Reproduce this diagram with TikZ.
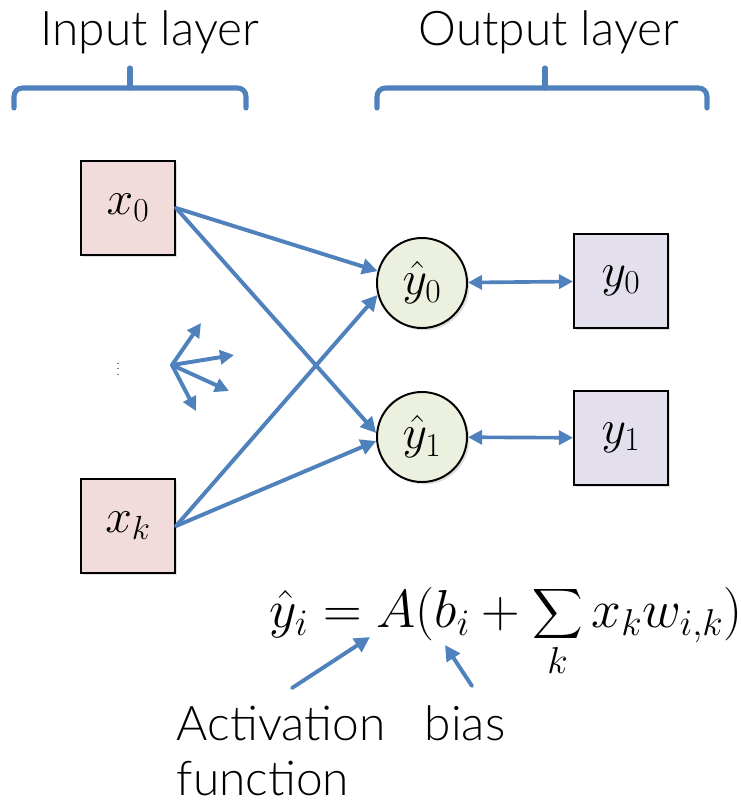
\RequirePackage{fix-cm}
\documentclass[tikz,border=0pt]{standalone}
\usepackage{amsmath}
\usepackage{fontspec}
\setmainfont{Lato Light}
\usetikzlibrary{arrows.meta,shadows}
\definecolor{LinkBlue}{HTML}{4F81BD}
\definecolor{InFill}{HTML}{F2DCDB}
\definecolor{OutFill}{HTML}{EBF1DE}
\definecolor{TargetFill}{HTML}{E4DFEC}
\tikzset{
  unitbox/.style={draw=black,line width=1.4pt,minimum size=2.35cm,inner sep=0pt,
    font=\fontsize{34}{34}\selectfont,
    drop shadow={opacity=.25,shadow xshift=.6mm,shadow yshift=-.6mm}},
  neuron/.style={circle,draw=black,line width=1.4pt,fill=OutFill,minimum size=2.25cm,inner sep=0pt,
    font=\fontsize{34}{34}\selectfont,
    drop shadow={opacity=.25,shadow xshift=.6mm,shadow yshift=-.6mm}},
  link/.style={LinkBlue,line width=2.8pt,-{Triangle[length=11pt,width=11pt]}},
  pair/.style={LinkBlue,line width=2.6pt,{Triangle[length=10pt,width=10pt]}-{Triangle[length=10pt,width=10pt]}},
  brace/.style={LinkBlue,line width=3.6pt,rounded corners=6pt},
  title/.style={anchor=base,font=\fontsize{34}{40}\selectfont},
  note/.style={anchor=base west,font=\fontsize{34}{40}\selectfont}
}
\begin{document}
\begin{tikzpicture}[x=0.025cm,y=-0.025cm,line cap=round]
  \useasboundingbox (0,0) rectangle (741,803);
  % layer titles and braces
  \node[title] (intitle) at (150,45) {Input layer};
  \node[title] (outtitle) at (549,45) {Output layer};
  \draw[brace] (14,108) -- (14,88) -- (246,88) -- (246,108);
  \draw[brace,rounded corners=0pt] (130,88) -- (130,68);
  \draw[brace] (377,108) -- (377,88) -- (707,88) -- (707,108);
  \draw[brace,rounded corners=0pt] (545,88) -- (545,68);
  % units
  \node[unitbox,fill=InFill] (x0) at (128,208) {$x_0$};
  \node[unitbox,fill=InFill] (xk) at (128,526) {$x_k$};
  \node[neuron] (yh0) at (422,283) {$\hat{y}_0$};
  \node[neuron] (yh1) at (422,437) {$\hat{y}_1$};
  \node[unitbox,fill=TargetFill] (y0) at (621,281) {$y_0$};
  \node[unitbox,fill=TargetFill] (y1) at (621,438) {$y_1$};
  % weights
  \draw[link] (x0.east) -- (yh0.165);
  \draw[link] (x0.east) -- (yh1.175);
  \draw[link] (xk.east) -- (yh0.195);
  \draw[link] (xk.east) -- (yh1.185);
  \draw[pair] (yh0) -- (y0);
  \draw[pair] (yh1) -- (y1);
  % more inputs
  \node (dots) at (118,365) {\fontsize{9}{9}\selectfont$\vdots$};
  \coordinate (fan) at (172,365);
  \foreach \dx/\dy in {29/-42,62/-10,57/26,24/46}
    \draw[link,-{Triangle[length=10pt,width=10pt]}] (fan) -- ++(\dx,\dy);
  % output formula
  \node[anchor=base] (eq) at (506,627) {\fontsize{38}{44}\selectfont$\displaystyle\hat{y}_i=A(b_i+\sum_k x_k w_{i,k})$};
  \coordinate (actfrom) at (292,688);\coordinate (actto) at (370,637);
  \coordinate (biasfrom) at (472,686);\coordinate (biasto) at (445,645);
  \draw[link] (actfrom) -- (actto);
  \draw[link] (biasfrom) -- (biasto);
  \node[note] (act) at (172,740) {Activation};
  \node[note] (fun) at (172,795) {function};
  \node[note] (bias) at (420,740) {bias};
\end{tikzpicture}
\end{document}
